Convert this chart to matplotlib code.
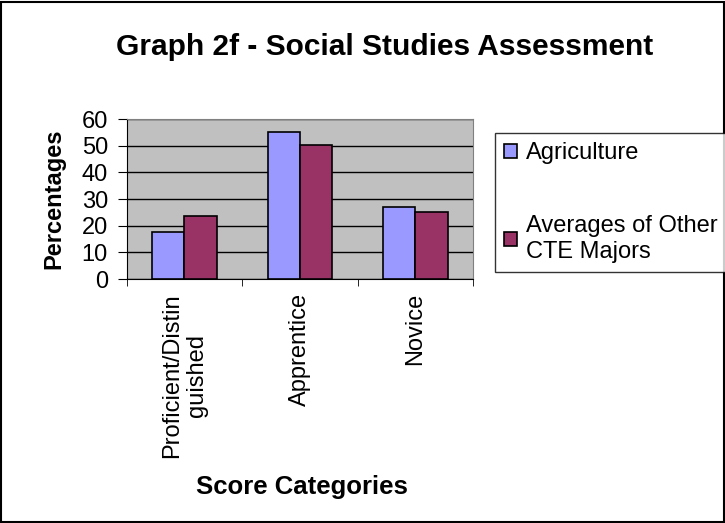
import numpy as np
import matplotlib.pyplot as plt
from matplotlib.patches import Rectangle

plt.rcParams['font.family'] = ['Liberation Sans', 'DejaVu Sans']

categories = ["Proficient/Distin\nguished", "Apprentice", "Novice"]
agriculture = [17.6, 55.1, 27.1]
other_cte = [23.7, 50.4, 25.1]
series_names = ["Agriculture", "Averages of Other\nCTE Majors"]

fig = plt.figure(figsize=(7.25, 5.23), dpi=100)
ax = fig.add_axes([126.7/725, 1-279/523, (473-126.7)/725, (279-119)/523])
ax.set_facecolor("#C0C0C0")

x = np.arange(len(categories))
w = 0.28
ax.bar(x - w/2, agriculture, w, color="#9999FF", edgecolor="black", linewidth=1.2,
       label=series_names[0], zorder=3)
ax.bar(x + w/2, other_cte, w, color="#993366", edgecolor="black", linewidth=1.2,
       label=series_names[1], zorder=3)

ax.set_xlim(-0.5, 2.5)
ax.set_ylim(0, 60)
ax.set_yticks(range(0, 61, 10))
ax.yaxis.grid(True, color="black", linewidth=1, zorder=1)
ax.set_axisbelow(True)
ax.tick_params(axis="y", labelsize=17, length=6.5, pad=7, direction="out")

ax.set_xticks(x)
ax.set_xticklabels(categories, rotation=90, fontsize=17, va="top", ha="center",
                   multialignment="center")
ax.set_xticks([-0.5, 0.5, 1.5, 2.5], minor=True)
ax.tick_params(axis="x", which="major", length=0, pad=10)
ax.tick_params(axis="x", which="minor", length=5, direction="out")

for s in ["left", "bottom"]:
    ax.spines[s].set_color("black")
for s in ["top", "right"]:
    ax.spines[s].set_color("#808080")

ax.set_ylabel("Percentages", fontsize=17, fontweight="bold", labelpad=12)
fig.text(302/725, 1-487/523, "Score Categories", fontsize=18.5, fontweight="bold",
         ha="center", va="center")
fig.text(385/725, 1-47/523, "Graph 2f - Social Studies Assessment", fontsize=21.5,
         fontweight="bold", ha="center", va="center")

leg = fig.legend(loc="upper left", bbox_to_anchor=(495/725, 1-133/523),
                 fontsize=17, frameon=True, fancybox=False, edgecolor="black",
                 handlelength=0.55, handleheight=0.55, handletextpad=0.35,
                 labelspacing=2.15, borderpad=0.4, borderaxespad=0)
leg.get_frame().set_linewidth(1)

fig.patches.append(Rectangle((0.001, 0.001), 0.997, 0.996, transform=fig.transFigure,
                             fill=False, edgecolor="black", linewidth=1.5))

fig.savefig("out.png", dpi=100)
